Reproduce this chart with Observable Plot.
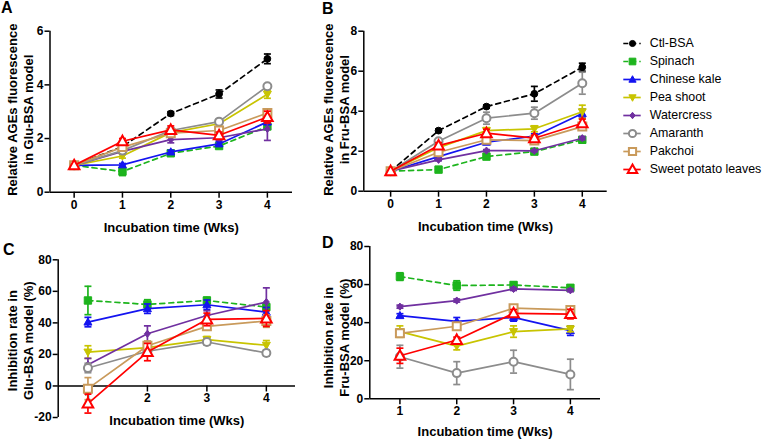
<!DOCTYPE html>
<html><head><meta charset="utf-8">
<script src="https://cdn.jsdelivr.net/npm/d3@7"></script>
<script src="https://cdn.jsdelivr.net/npm/@observablehq/plot@0.6"></script>
<style>
html,body{margin:0;padding:0;background:#fff;}
#root{position:relative;width:765px;height:440px;overflow:hidden;font-family:'Liberation Sans',Arial,sans-serif;}
#root svg{position:absolute;overflow:visible;}
.lab{position:absolute;font-weight:bold;font-size:16px;line-height:16px;}
</style></head><body><div id="root"></div>
<script>
// ---------- data ----------
const series = ["Ctl-BSA","Spinach","Chinese kale","Pea shoot","Watercress","Amaranth","Pakchoi","Sweet potato leaves"];
const seriesCD = ["Spinach","Chinese kale","Pea shoot","Watercress","Amaranth","Pakchoi","Sweet potato leaves"];
const weeksAB = [0,1,2,3,4];
const weeksCD = [1,2,3,4];
const yTicksA = [0,2,4,6];
const yTicksB = [0,2,4,6,8];
const yTicksC = [-20,0,20,40,60,80];
const yTicksD = [0,20,40,60,80];

const meanA = [
  [1,1.70,2.93,3.66,4.97],
  [1,0.77,1.45,1.72,2.45],
  [1,1.02,1.50,1.80,2.62],
  [1,1.35,2.22,2.55,3.65],
  [1,1.52,1.96,2.03,2.36],
  [1,1.55,2.30,2.63,3.95],
  [1,1.68,2.20,2.30,2.95],
  [1,1.90,2.32,2.12,2.80]
];
const errA = [
  [0,0.05,0.07,0.15,0.18],
  [0,0.15,0.08,0.08,0.10],
  [0,0.05,0.06,0.08,0.10],
  [0,0.08,0.08,0.08,0.15],
  [0,0.08,0.12,0.10,0.43],
  [0,0.08,0.08,0.08,0.08],
  [0,0.10,0.10,0.12,0.15],
  [0,0.10,0.15,0.12,0.22]
];
const meanB = [
  [1,3.03,4.23,4.87,6.20],
  [1,1.08,1.73,1.98,2.57],
  [1,1.73,2.45,2.75,3.88],
  [1,2.18,3.03,3.12,3.97],
  [1,1.57,2.03,2.02,2.65],
  [1,2.50,3.65,3.90,5.40],
  [1,1.95,2.57,2.53,3.23],
  [1,2.28,2.90,2.65,3.40]
];
const errB = [
  [0,0.08,0.08,0.37,0.20],
  [0,0.08,0.08,0.08,0.12],
  [0,0.08,0.10,0.12,0.22],
  [0,0.10,0.15,0.15,0.33],
  [0,0.05,0.05,0.05,0.08],
  [0,0.12,0.30,0.30,0.55],
  [0,0.10,0.10,0.10,0.12],
  [0,0.15,0.20,0.15,0.20]
];
const meanC = [
  [54.2,51.7,54.2,50.0],
  [40.5,49.0,51.5,46.8],
  [21.5,24.3,29.4,25.8],
  [13.5,33.1,44.7,53.2],
  [11.4,22.0,27.9,20.9],
  [-1.7,25.5,37.8,41.2],
  [-11.2,21.5,42.2,42.8]
];
const errC = [
  [9,3,2,2],
  [3,3,3,3],
  [4,2,2,3],
  [4,5,3,9],
  [3,2,2,2],
  [7,3,2,4],
  [6,5.5,4,5]
];
const meanD = [
  [64.2,59.5,59.8,58.3],
  [43.7,40.7,42.8,35.8],
  [35.3,27.7,35.3,36.7],
  [48.4,51.6,57.7,57.0],
  [22.1,13.5,19.5,12.8],
  [34.4,38.1,47.6,46.7],
  [22.6,30.9,44.9,44.5]
];
const errD = [
  [2,2.5,1.5,1.5],
  [1,2,2,2.5],
  [3,2,3,1.5],
  [0.8,0.8,0.8,0.8],
  [6,6,6,8],
  [2,1.5,1.5,1.5],
  [4,1.5,2,2.5]
];

// ---------- styles ----------
const colorOf = {"Ctl-BSA":"#000000","Spinach":"#1db41d","Chinese kale":"#1414f0","Pea shoot":"#c8c400","Watercress":"#7030a0","Amaranth":"#8c8c8c","Pakchoi":"#c99a5b","Sweet potato leaves":"#ff0000"};
const dashedOf = {"Ctl-BSA":true,"Spinach":true};
const openOf = {"Amaranth":true,"Pakchoi":true,"Sweet potato leaves":true};

function sym(fn){ return {draw(ctx,size){ fn(ctx, Math.sqrt(size/Math.PI)); }}; }
const symCircle = sym((c,r)=>{c.moveTo(r,0);c.arc(0,0,r,0,2*Math.PI);});
const symSquare = sym((c,r)=>{c.rect(-r,-r,2*r,2*r);});
const symTriUp = sym((c,r)=>{c.moveTo(0,-r*1.05);c.lineTo(r,r*0.75);c.lineTo(-r,r*0.75);c.closePath();});
const symTriDown = sym((c,r)=>{c.moveTo(0,r*1.05);c.lineTo(r,-r*0.75);c.lineTo(-r,-r*0.75);c.closePath();});
const symDiamond = sym((c,r)=>{c.moveTo(0,-r*1.2);c.lineTo(r,0);c.lineTo(0,r*1.2);c.lineTo(-r,0);c.closePath();});
const symCap = sym((c,r)=>{c.moveTo(-r,0);c.lineTo(r,0);});
const symbolOf = {"Ctl-BSA":symCircle,"Spinach":symSquare,"Chinese kale":symTriUp,"Pea shoot":symTriDown,"Watercress":symDiamond,"Amaranth":symCircle,"Pakchoi":symSquare,"Sweet potato leaves":symTriUp};
const rOf = {"Ctl-BSA":3.4,"Spinach":3.7,"Chinese kale":4,"Pea shoot":4,"Watercress":3,"Amaranth":4,"Pakchoi":4,"Sweet potato leaves":5.3};

const FONT = "'Liberation Sans', Arial, sans-serif";

function seriesMarks(names, weeks, mean, err){
  const marks = [];
  names.forEach((s,i)=>{
    const d = weeks.map((w,j)=>({w, v: mean[i][j], e: err[i][j]}));
    const col = colorOf[s];
    marks.push(Plot.line(d,{x:"w",y:"v",stroke:col,strokeWidth:1.7,strokeDasharray:dashedOf[s]?"5,4":null}));
    const eb = d.filter(r=>r.e>0);
    marks.push(Plot.ruleX(eb,{x:"w",y1:r=>r.v-r.e,y2:r=>r.v+r.e,stroke:col,strokeWidth:1.7}));
    marks.push(Plot.dot(eb,{x:"w",y:r=>r.v-r.e,symbol:symCap,r:3.5,stroke:col,strokeWidth:1.7,fill:"none"}));
    marks.push(Plot.dot(eb,{x:"w",y:r=>r.v+r.e,symbol:symCap,r:3.5,stroke:col,strokeWidth:1.7,fill:"none"}));
    marks.push(Plot.dot(d,{x:"w",y:"v",symbol:symbolOf[s],r:rOf[s],fill:openOf[s]?"white":col,stroke:col,strokeWidth:openOf[s]?2:1}));
  });
  return marks;
}

function panel(cfg){
  const marks = [];
  marks.push(Plot.ruleX([cfg.xDomain[0]],{strokeWidth:1.5}));
  marks.push(Plot.axisY({ticks:cfg.yTicks,tickSize:5,tickPadding:1.5,strokeWidth:1.5,label:null,tickFormat:d=>String(d)}));
  if (cfg.zeroAxis){
    marks.push(Plot.ruleY([0],{strokeWidth:1.5}));
    marks.push(Plot.ruleX(cfg.weeks,{x:d=>d,y1:0,y2:0,insetBottom:-6,strokeWidth:1.5}));
    marks.push(Plot.text(cfg.weeks,{x:d=>d,y:0,text:d=>String(d),dy:8,lineAnchor:"top"}));
  } else {
    marks.push(Plot.ruleY([cfg.yDomain[0]],{strokeWidth:1.5}));
    marks.push(Plot.axisX({ticks:cfg.weeks,tickSize:6,tickPadding:2,strokeWidth:1.5,label:null,tickFormat:d=>String(d)}));
  }
  marks.push(Plot.text([cfg.xLabel],{frameAnchor:"bottom",dy:cfg.xLabelDy,fontSize:13,lineAnchor:"middle",textAnchor:"middle"}));
  marks.push(Plot.text([cfg.yLabel],{frameAnchor:"left",rotate:-90,dx:cfg.yLabelDx,dy:cfg.yLabelDy,fontSize:13,lineHeight:1.23,lineAnchor:"middle",textAnchor:"middle"}));
  marks.push(...seriesMarks(cfg.names,cfg.weeks,cfg.mean,cfg.err));
  const svg = Plot.plot({
    width:cfg.width,height:cfg.height,
    marginLeft:cfg.mL,marginRight:cfg.mR,marginTop:cfg.mT,marginBottom:cfg.mB,
    x:{domain:cfg.xDomain,axis:null},
    y:{domain:cfg.yDomain,axis:null},
    style:{fontFamily:FONT,fontSize:"12px",fontWeight:"bold",color:"black",background:"transparent",overflow:"visible"},
    marks
  });
  svg.style.left = cfg.left+"px";
  svg.style.top = cfg.top+"px";
  return svg;
}

const root = document.getElementById("root");
root.appendChild(panel({left:0,top:0,width:300,height:240,mL:49.5,mR:8,mT:30.7,mB:48.3,
  xDomain:[-0.5,4.52],yDomain:[0,6],yTicks:yTicksA,weeks:weeksAB,names:series,mean:meanA,err:errA,
  xLabel:"Incubation time (Wks)",xLabelDy:35.3,yLabel:"Relative AGEs fluorescence\nin Glu-BSA model",yLabelDx:-30.5,yLabelDy:-2}));
root.appendChild(panel({left:300,top:0,width:320,height:240,mL:63.3,mR:13.3,mT:30.7,mB:49.3,
  xDomain:[-0.56,4.52],yDomain:[0,8],yTicks:yTicksB,weeks:weeksAB,names:series,mean:meanB,err:errB,
  xLabel:"Incubation time (Wks)",xLabelDy:35.3,yLabel:"Relative AGEs fluorescence\nin Fru-BSA model",yLabelDx:-28.3,yLabelDy:-1.5}));
root.appendChild(panel({left:0,top:220,width:300,height:220,mL:57.7,mR:5,mT:39.3,mB:23,zeroAxis:true,
  xDomain:[0.5,4.49],yDomain:[-20,80],yTicks:yTicksC,weeks:weeksCD,names:seriesCD,mean:meanC,err:errC,
  xLabel:"Incubation time (Wks)",xLabelDy:3,yLabel:"Inhibition rate in\nGlu-BSA model (%)",yLabelDx:-38.7,yLabelDy:2}));
root.appendChild(panel({left:300,top:220,width:320,height:220,mL:69.3,mR:20,mT:26,mB:41.7,
  xDomain:[0.47,4.53],yDomain:[0,80],yTicks:yTicksD,weeks:weeksCD,names:seriesCD,mean:meanD,err:errD,
  xLabel:"Incubation time (Wks)",xLabelDy:33.4,yLabel:"Inhibition rate in\nFru-BSA model (%)",yLabelDx:-34.3,yLabelDy:15}));

// legend
const legMarks = [];
series.forEach(s=>{
  const col = colorOf[s];
  legMarks.push(Plot.ruleY([s],{y:d=>d,x1:0,x2:1,stroke:col,strokeWidth:1.7,strokeDasharray:dashedOf[s]?"5,3":null}));
  legMarks.push(Plot.dot([s],{x:0.5,y:d=>d,symbol:symbolOf[s],r:rOf[s]*0.9,fill:openOf[s]?"white":col,stroke:col,strokeWidth:openOf[s]?2:1}));
});
legMarks.push(Plot.text(series,{x:1,y:d=>d,text:d=>d,textAnchor:"start",dx:8.5,fontSize:12.4,fontWeight:"normal"}));
const leg = Plot.plot({width:145,height:155,marginLeft:3.3,marginRight:124.3,marginTop:11.7,marginBottom:15,
  x:{domain:[0,1],axis:null},y:{type:"point",domain:series,padding:0,axis:null},
  style:{fontFamily:FONT,fontSize:"12.4px",color:"black",background:"transparent",overflow:"visible"},
  marks:legMarks});
leg.style.left="620px"; leg.style.top="30px";
root.appendChild(leg);

// panel letters
[["A",1,0],["B",322,1.3],["C",3,241.5],["D",322,234.5]].forEach(([t,x,y])=>{
  const el=document.createElement("div"); el.className="lab"; el.textContent=t;
  el.style.left=x+"px"; el.style.top=y+"px"; root.appendChild(el);
});
</script></body></html>
